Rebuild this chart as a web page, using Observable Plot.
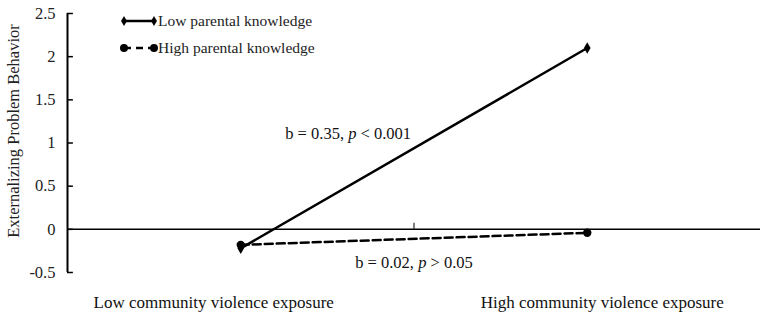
<!DOCTYPE html>
<html>
<head>
<meta charset="utf-8">
<script src="https://cdn.jsdelivr.net/npm/d3@7"></script>
<script src="https://cdn.jsdelivr.net/npm/@observablehq/plot@0.6"></script>
<style>
  body { margin: 0; background: #fff; }
  #wrap { position: relative; width: 765px; height: 320px; font-family: "Liberation Serif", "Times New Roman", serif; }
  #legend { position: absolute; left: 120px; top: 7px; font-size: 15.5px; color: #222; }
  #legend .row { display: flex; align-items: center; height: 27px; }
  #legend svg { display: block; margin-right: 0px; }
</style>
</head>
<body>
<div id="wrap"><div id="chart"></div><div id="legend"></div></div>
<script>
// Data
const categories = ["Low community violence exposure", "High community violence exposure"];
const seriesNames = ["Low parental knowledge", "High parental knowledge"];
const lowKnowledge = [-0.22, 2.10];
const highKnowledge = [-0.18, -0.04];
const yTicks = [-0.5, 0, 0.5, 1, 1.5, 2, 2.5];
const annotations = [
  {label: "b = 0.35, ", italic: "p", rest: " < 0.001", x: 0.81, y: 1.11},
  {label: "b = 0.02, ", italic: "p", rest: " > 0.05", x: 1.0, y: -0.39}
];

const rows = [];
categories.forEach((c, i) => {
  rows.push({series: seriesNames[0], xi: i + 0.5, v: lowKnowledge[i]});
  rows.push({series: seriesNames[1], xi: i + 0.5, v: highKnowledge[i]});
});
const lowRows = rows.filter(d => d.series === seriesNames[0]);
const highRows = rows.filter(d => d.series === seriesNames[1]);

const font = '"Liberation Serif", "Times New Roman", serif';

const chart = Plot.plot({
  width: 765,
  height: 320,
  marginLeft: 67,
  marginRight: 5,
  marginTop: 13,
  marginBottom: 48,
  style: {fontFamily: font, fontSize: "16px", background: "#fff", color: "#222", overflow: "visible"},
  x: {type: "linear", domain: [0, 2], axis: null},
  y: {domain: [-0.5, 2.5], axis: null},
  marks: [
    // y axis line and inward ticks
    Plot.ruleX([0], {y1: -0.5, y2: 2.5, stroke: "#000", strokeWidth: 2}),
    Plot.ruleY(yTicks, {x1: 0, x2: 0.017, stroke: "#000", strokeWidth: 1.5}),
    Plot.axisY({ticks: yTicks, tickSize: 0, tickPadding: 12, tickFormat: d => String(d), fontSize: 16.5, fill: "#222"}),
    Plot.text(["Externalizing Problem Behavior"], {frameAnchor: "left", textAnchor: "middle", dx: -54, dy: -12, rotate: -90, fontSize: 16.5, fill: "#222"}),
    // zero baseline + middle tick
    Plot.ruleY([0], {stroke: "#000", strokeWidth: 1.5}),
    Plot.ruleX([1], {y1: 0, y2: 0.07, stroke: "#000", strokeWidth: 1}),
    // series
    Plot.line(lowRows, {x: "xi", y: "v", stroke: "#000", strokeWidth: 2.5}),
    Plot.line(highRows, {x: "xi", y: "v", stroke: "#000", strokeWidth: 2.5, strokeDasharray: "8,4"}),
    Plot.dot(lowRows, {x: "xi", y: "v", symbol: "diamond", r: 3.5, fill: "#000"}),
    Plot.dot(highRows, {x: "xi", y: "v", symbol: "circle", r: 4.2, fill: "#000"}),
    // annotations
    Plot.text(annotations, {
      x: "x", y: "y", fontSize: 16.5, fill: "#111",
      text: d => d.label + d.italic + d.rest
    }),
    // category labels
    Plot.text([categories[0]], {x: () => 0.5, y: () => -0.5, dy: 30, dx: -27, fontSize: 17, fill: "#111"}),
    Plot.text([categories[1]], {x: () => 1.5, y: () => -0.5, dy: 30, dx: 15, fontSize: 17, fill: "#111"})
  ]
});

// italicize "p" in annotations
d3.select(chart).selectAll("text").each(function() {
  const t = this.textContent;
  const a = annotations.find(d => t === d.label + d.italic + d.rest);
  if (a) {
    const sel = d3.select(this);
    sel.text(null);
    sel.append("tspan").text(a.label);
    sel.append("tspan").attr("font-style", "italic").text(a.italic);
    sel.append("tspan").text(a.rest);
  }
});

document.getElementById("chart").appendChild(chart);

// legend
const legend = d3.select("#legend");
seriesNames.forEach((name, i) => {
  const row = legend.append("div").attr("class", "row");
  const svg = row.append("svg").attr("width", 38).attr("height", 12);
  svg.append("line").attr("x1", 4).attr("x2", 34).attr("y1", 6).attr("y2", 6)
    .attr("stroke", "#000").attr("stroke-width", 2.5)
    .attr("stroke-dasharray", i === 0 ? null : "7,5");
  const sym = d3.symbol(i === 0 ? d3.symbolDiamond : d3.symbolCircle, i === 0 ? 30 : 50);
  [4, 34].forEach(cx => svg.append("path").attr("d", sym()).attr("transform", `translate(${cx},6)`).attr("fill", "#000"));
  row.append("span").text(name);
});
</script>
</body>
</html>
